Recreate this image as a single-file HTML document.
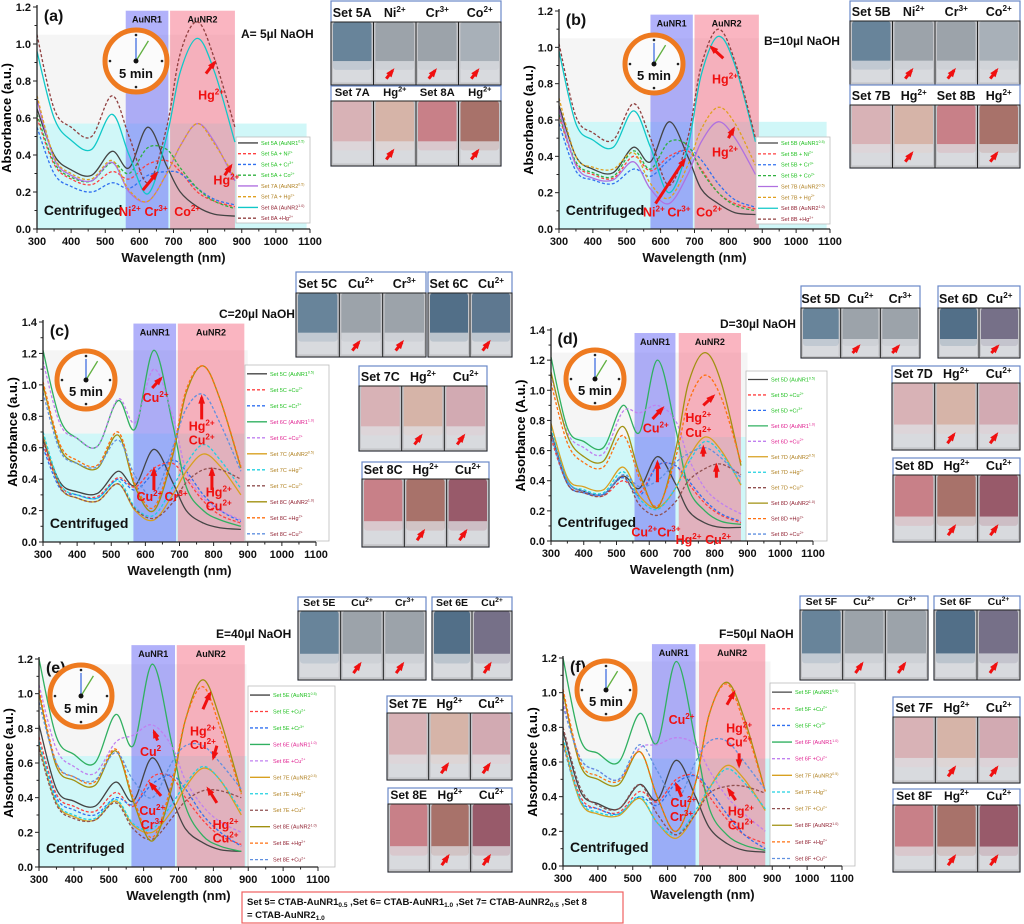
<!DOCTYPE html>
<html><head><meta charset="utf-8"><style>
body{margin:0;background:#fff;}
svg{display:block;font-family:"Liberation Sans",Arial,sans-serif;}
</style></head><body>
<svg id="fig" width="1024" height="924" viewBox="0 0 1024 924" xmlns="http://www.w3.org/2000/svg"></svg>
<script>
// ---- data ----
const wavelengths = [300,350,400,460,520,570,625,680,720,770,820,880];
const xTicks = [300,400,500,600,700,800,900,1000,1100];
const yTicks12 = [0,0.2,0.4,0.6,0.8,1.0,1.2];
const yTicks14 = [0,0.2,0.4,0.6,0.8,1.0,1.2,1.4];

const A_5A=[0.65,0.40,0.32,0.29,0.42,0.33,0.55,0.34,0.20,0.12,0.08,0.07];
const A_Ni=[0.60,0.35,0.27,0.24,0.31,0.27,0.35,0.37,0.31,0.20,0.15,0.12];
const A_Cr=[0.55,0.30,0.23,0.20,0.25,0.22,0.29,0.31,0.30,0.22,0.16,0.13];
const A_Co=[0.62,0.36,0.28,0.26,0.36,0.30,0.44,0.43,0.33,0.22,0.15,0.11];
const A_7A=[0.70,0.38,0.29,0.26,0.36,0.20,0.15,0.30,0.45,0.57,0.47,0.26];
const A_7Hg=[0.72,0.39,0.30,0.27,0.37,0.21,0.15,0.30,0.45,0.57,0.46,0.28];
const A_8A=[0.96,0.60,0.48,0.43,0.62,0.40,0.19,0.50,0.85,1.03,0.85,0.47];
const A_8Hg=[1.05,0.65,0.55,0.50,0.72,0.50,0.25,0.55,0.95,1.12,0.92,0.55];

const B_5B=[0.68,0.40,0.33,0.31,0.45,0.37,0.59,0.40,0.22,0.14,0.09,0.08];
const B_Ni=[0.62,0.36,0.30,0.28,0.40,0.32,0.40,0.43,0.33,0.20,0.14,0.11];
const B_Cr=[0.58,0.32,0.27,0.25,0.33,0.29,0.38,0.44,0.38,0.25,0.16,0.12];
const B_Co=[0.63,0.37,0.31,0.29,0.43,0.33,0.48,0.46,0.32,0.20,0.13,0.10];
const B_7B=[0.66,0.35,0.28,0.27,0.37,0.22,0.14,0.30,0.48,0.59,0.50,0.30];
const B_7Hg=[0.72,0.40,0.34,0.33,0.42,0.25,0.17,0.35,0.55,0.67,0.58,0.35];
const B_8B=[0.98,0.58,0.49,0.45,0.65,0.45,0.20,0.45,0.85,1.06,0.90,0.48];
const B_8Hg=[1.02,0.62,0.53,0.49,0.69,0.50,0.24,0.50,0.90,1.10,0.92,0.50];

const C_5=[0.65,0.38,0.32,0.31,0.45,0.36,0.59,0.38,0.20,0.12,0.09,0.08];
const C_5Cu=[0.62,0.36,0.30,0.29,0.41,0.35,0.47,0.50,0.40,0.26,0.17,0.12];
const C_5Cr=[0.60,0.34,0.30,0.28,0.40,0.33,0.44,0.52,0.45,0.30,0.20,0.13];
const C_6=[1.22,0.78,0.66,0.61,0.90,0.72,1.22,0.75,0.35,0.20,0.14,0.10];
const C_6Cu=[1.15,0.75,0.66,0.61,0.91,0.76,1.10,0.80,0.45,0.28,0.20,0.14];
const C_7=[0.68,0.35,0.28,0.26,0.37,0.20,0.14,0.30,0.45,0.56,0.48,0.30];
const C_7Hg=[0.70,0.37,0.30,0.28,0.39,0.22,0.17,0.35,0.50,0.62,0.52,0.34];
const C_7Cu=[0.66,0.35,0.28,0.26,0.37,0.21,0.15,0.25,0.38,0.46,0.46,0.40];
const C_8=[1.00,0.60,0.50,0.47,0.68,0.35,0.20,0.55,0.95,1.12,0.90,0.47];
const C_8Hg=[1.02,0.62,0.52,0.49,0.70,0.37,0.22,0.58,0.97,1.12,0.90,0.48];
const C_8Cu=[0.95,0.58,0.50,0.48,0.65,0.42,0.30,0.60,0.85,0.94,0.75,0.45];

const D_5=[0.72,0.40,0.33,0.31,0.43,0.35,0.56,0.38,0.20,0.12,0.09,0.09];
const D_5Cu=[0.68,0.38,0.32,0.30,0.40,0.32,0.50,0.50,0.38,0.25,0.17,0.12];
const D_5Cr=[0.70,0.38,0.32,0.31,0.42,0.30,0.50,0.50,0.40,0.27,0.18,0.13];
const D_6=[1.22,0.75,0.66,0.62,0.90,0.72,1.20,0.75,0.35,0.20,0.13,0.11];
const D_6Cu=[1.10,0.72,0.62,0.58,0.86,0.85,0.90,0.80,0.55,0.35,0.25,0.18];
const D_7=[0.78,0.42,0.36,0.34,0.49,0.30,0.22,0.35,0.55,0.69,0.60,0.37];
const D_7Hg=[0.75,0.40,0.34,0.32,0.46,0.28,0.21,0.35,0.52,0.66,0.58,0.38];
const D_7Cu=[0.72,0.38,0.32,0.30,0.43,0.24,0.17,0.26,0.40,0.48,0.51,0.44];
const D_8=[1.12,0.70,0.56,0.53,0.76,0.45,0.22,0.60,1.05,1.25,1.05,0.50];
const D_8Hg=[1.05,0.65,0.52,0.49,0.70,0.42,0.23,0.55,0.92,1.10,0.95,0.52];
const D_8Cu=[0.70,0.40,0.33,0.31,0.44,0.36,0.40,0.52,0.58,0.62,0.55,0.42];

const E_5=[0.82,0.45,0.38,0.35,0.49,0.38,0.63,0.40,0.22,0.14,0.10,0.09];
const E_5Cu=[0.75,0.42,0.35,0.32,0.43,0.35,0.52,0.52,0.40,0.27,0.18,0.13];
const E_5Cr=[0.72,0.40,0.33,0.30,0.40,0.36,0.48,0.53,0.45,0.30,0.20,0.12];
const E_6=[1.20,0.75,0.65,0.60,0.88,0.70,1.17,0.72,0.35,0.18,0.12,0.09];
const E_6Cu=[1.05,0.68,0.58,0.54,0.72,0.76,0.82,0.70,0.50,0.35,0.26,0.20];
const E_7=[0.70,0.37,0.29,0.27,0.38,0.24,0.20,0.32,0.46,0.57,0.50,0.30];
const E_7Hg=[0.72,0.38,0.30,0.28,0.39,0.25,0.22,0.36,0.48,0.58,0.50,0.32];
const E_7Cu=[0.68,0.36,0.28,0.27,0.37,0.22,0.16,0.28,0.38,0.44,0.44,0.40];
const E_8=[1.00,0.58,0.50,0.47,0.67,0.38,0.15,0.45,0.85,1.08,0.85,0.43];
const E_8Hg=[1.02,0.60,0.52,0.49,0.68,0.40,0.17,0.48,0.85,1.04,0.80,0.42];
const E_8Cu=[0.95,0.60,0.52,0.50,0.66,0.50,0.40,0.60,0.70,0.70,0.60,0.45];

const F_5=[0.78,0.43,0.36,0.33,0.47,0.38,0.61,0.40,0.22,0.13,0.09,0.08];
const F_5Cu=[0.72,0.40,0.33,0.31,0.43,0.37,0.50,0.52,0.40,0.27,0.18,0.13];
const F_5Cr=[0.70,0.38,0.33,0.30,0.40,0.35,0.48,0.52,0.44,0.30,0.18,0.10];
const F_6=[1.20,0.73,0.65,0.60,0.88,0.71,1.18,0.72,0.33,0.18,0.12,0.09];
const F_6Cu=[0.95,0.62,0.55,0.50,0.68,0.70,0.74,0.70,0.55,0.40,0.30,0.20];
const F_7=[0.72,0.37,0.30,0.29,0.39,0.25,0.16,0.30,0.45,0.58,0.50,0.32];
const F_7Hg=[0.74,0.38,0.31,0.30,0.40,0.25,0.18,0.32,0.45,0.56,0.48,0.33];
const F_7Cu=[0.80,0.45,0.35,0.33,0.47,0.30,0.18,0.30,0.42,0.46,0.46,0.42];
const F_8=[1.00,0.58,0.50,0.47,0.66,0.40,0.20,0.48,0.88,1.06,0.85,0.43];
const F_8Hg=[1.02,0.60,0.52,0.49,0.66,0.40,0.20,0.48,0.88,1.05,0.82,0.43];
const F_8Cu=[0.92,0.62,0.55,0.50,0.70,0.55,0.38,0.60,0.72,0.72,0.60,0.44];

// ---- helpers ----
const NS="http://www.w3.org/2000/svg";
const svg=document.getElementById('fig');
function el(tag,attrs,parent){const e=document.createElementNS(NS,tag);for(const k in attrs)e.setAttribute(k,attrs[k]);(parent||svg).appendChild(e);return e;}
function txt(x,y,s,size,fill,parent,anchor,weight){const t=el('text',{x:x,y:y,'font-size':size,fill:fill||'#000','font-weight':weight||'bold','text-anchor':anchor||'start'},parent);
  const parts=s.split('^');t.appendChild(document.createTextNode(parts[0]));
  if(parts[1]){const sp=el('tspan',{'font-size':size*0.65,dy:-size*0.4},t);sp.textContent=parts[1];}
  return t;}
function smooth(pts){let d='M'+pts[0][0].toFixed(1)+','+pts[0][1].toFixed(1);
  for(let i=0;i<pts.length-1;i++){const p0=pts[i-1]||pts[i],p1=pts[i],p2=pts[i+1],p3=pts[i+2]||p2;
    const c1=[p1[0]+(p2[0]-p0[0])/6,p1[1]+(p2[1]-p0[1])/6],c2=[p2[0]-(p3[0]-p1[0])/6,p2[1]-(p3[1]-p1[1])/6];
    d+=' C'+c1[0].toFixed(1)+','+c1[1].toFixed(1)+' '+c2[0].toFixed(1)+','+c2[1].toFixed(1)+' '+p2[0].toFixed(1)+','+p2[1].toFixed(1);}
  return d;}
function arrow(x1,y1,x2,y2,g){const l=el('line',{x1:x1,y1:y1,x2:x2,y2:y2,stroke:'#f01010','stroke-width':3},g);
  
  
  const a=Math.atan2(y2-y1,x2-x1),s=7;
  const p=el('polygon',{points:`${x2+Math.cos(a)*3},${y2+Math.sin(a)*3} ${x2-Math.cos(a-0.5)*s},${y2-Math.sin(a-0.5)*s} ${x2-Math.cos(a+0.5)*s},${y2-Math.sin(a+0.5)*s}`,fill:'#f01010'},g);
  
  }

const styleAB=[['#444',0],['#ff4040',1],['#3070f0',1],['#30b040',1],['#b070e0',0],['#e0a020',1],['#10c8c8',0],['#904040',1]];
const styleCF=[['#444',0],['#ff4040',1],['#3070f0',1],['#30b060',0],['#c080f0',1],['#d8a020',0],['#20d0e0',1],['#905050',1],['#a09010',0],['#ff7010',1],['#6090e0',1]];

function panel(cfg){
  const g=el('g',{});
  
  
  const X=w=>cfg.x0+(w-300)/800*(cfg.x1-cfg.x0);
  const Y=v=>cfg.y0-v/cfg.ymax*(cfg.y0-cfg.yt);
  const sh=[[300,cfg.cyanR,0,cfg.cyan,'rgba(150,238,240,0.45)','centrifuged-region'],
            [300,cfg.grayR,cfg.cyan,cfg.gray,'rgba(225,225,225,0.35)','upper-region'],
            [cfg.b1[0],cfg.b1[1],0,cfg.btop,'rgba(100,100,245,0.5)','aunr1-band'],
            [cfg.b2[0],cfg.b2[1],0,cfg.btop,'rgba(245,100,125,0.48)','aunr2-band']];
  sh.forEach(s=>{const r=el('rect',{x:X(s[0]),y:Y(s[3]),width:X(s[1])-X(s[0]),height:Y(s[2])-Y(s[3]),fill:s[4]},g);
    
    });
  txt((X(cfg.b1[0])+X(cfg.b1[1]))/2,Y(cfg.btop)+12,'AuNR1',9,'#111',g,'middle');
  txt((X(cfg.b2[0])+X(cfg.b2[1]))/2,Y(cfg.btop)+12,'AuNR2',9,'#111',g,'middle');
  txt(X(320),Y(0)-14,'Centrifuged',14,'#111',g);
  cfg.series.forEach((s,i)=>{const st=cfg.styles[i];
    const pts=wavelengths.map((w,j)=>[X(w),Y(s[j])]);
    const p=el('path',{d:smooth(pts),fill:'none',stroke:st[0],'stroke-width':1.3,'stroke-dasharray':st[1]?'3,2':'none'},g);
    
    });
  const L=cfg.leg;const lg=el('rect',{x:L[0],y:L[1],width:L[2],height:L[3],fill:'#fff',stroke:'#bbb','stroke-width':0.8},g);
  
  
  const n=cfg.labels.length,step=L[3]/n;
  cfg.labels.forEach((lab,i)=>{const yy=L[1]+step*(i+0.55);const st=cfg.styles[i];
    const ln=el('line',{x1:L[0]+2,y1:yy,x2:L[0]+22,y2:yy,stroke:st[0],'stroke-width':1.3,'stroke-dasharray':st[1]?'3,2':'none'},g);
    
    
    const t=txt(L[0]+25,yy+2,lab,5.5,cfg.labColors[i],g,'start','normal');
    
    });
  const ax=el('path',{d:`M${X(300)},${Y(cfg.ymax)-2} V${Y(0)} H${X(1100)}`,fill:'none',stroke:'#222','stroke-width':1.3},g);
  
  
  xTicks.forEach(w=>{el('line',{x1:X(w),y1:Y(0),x2:X(w),y2:Y(0)+4,stroke:'#222'},g);
    const t=txt(X(w),Y(0)+16,String(w),11,'#111',g,'middle');
    if(w<1100)el('line',{x1:X(w+50),y1:Y(0),x2:X(w+50),y2:Y(0)+2.5,stroke:'#222'},g);});
  cfg.yticks.forEach(v=>{el('line',{x1:X(300),y1:Y(v),x2:X(300)-4,y2:Y(v),stroke:'#222'},g);
    const t=txt(X(300)-6,Y(v)+4,v.toFixed(1),11,'#111',g,'end');
    if(v<cfg.ymax-0.01)el('line',{x1:X(300),y1:Y(v+0.1),x2:X(300)-2.5,y2:Y(v+0.1),stroke:'#222'},g);});
  const xt=txt((X(300)+X(1100))/2,Y(0)+33,'Wavelength (nm)',13,'#111',g,'middle');
  
  const yc=(Y(0)+Y(cfg.ymax))/2;
  const yt=el('text',{x:cfg.x0-26,y:yc,'font-size':13,'font-weight':'bold','text-anchor':'middle',transform:`rotate(-90 ${cfg.x0-26} ${yc})`},g);
  yt.textContent=cfg.ytitle;
  
  const pl=txt(X(320),Y(cfg.ymax)+14,'('+cfg.id+')',16,'#111',g);
  const nl=txt(cfg.naoh[0],cfg.naoh[1],cfg.naoh[2],12,'#111',g);
  const c=cfg.clock;const cg=el('g',{},g);
  el('circle',{cx:c[0],cy:c[1],r:c[2],fill:'#fbfbfb',stroke:'#ee7a20','stroke-width':5},cg);
  [[0,-1],[1,0],[0,1],[-1,0]].forEach(d=>el('circle',{cx:c[0]+d[0]*(c[2]-5),cy:c[1]+d[1]*(c[2]-5),r:1.3,fill:'#222'},cg));
  el('line',{x1:c[0],y1:c[1],x2:c[0],y2:c[1]-c[2]+8,stroke:'#4070e0','stroke-width':1.3},cg);
  el('line',{x1:c[0],y1:c[1],x2:c[0]+c[2]*0.4,y2:c[1]-c[2]*0.65,stroke:'#60b040','stroke-width':1.3},cg);
  el('circle',{cx:c[0],cy:c[1],r:2.5,fill:'#111'},cg);
  txt(c[0],c[1]+c[2]*0.55,'5 min',13,'#111',cg,'middle');
  cfg.notes.forEach(n=>{const t=txt(X(n[0]),Y(n[1]),n[2],12.5,'#f01010',g,'middle');});
  cfg.arrows.forEach(a=>arrow(X(a[0]),Y(a[1]),X(a[2]),Y(a[3]),g));
}

const labAB=s=>[`Set 5${s} (AuNR1^0.5)`,`Set 5${s} + Ni^2+`,`Set 5${s} + Cr^3+`,`Set 5${s} + Co^2+`,`Set 7${s} (AuNR2^0.5)`,`Set 7${s} + Hg^2+`,`Set 8${s} (AuNR2^1.0)`,`Set 8${s} +Hg^2+`];
const colAB=['#20c020','#20c020','#20c020','#20c020','#b08020','#b08020','#902030','#902030'];
const labCF=s=>[`Set 5${s} (AuNR1^0.5)`,`Set 5${s} +Cu^2+`,`Set 5${s} +Cr^3+`,`Set 6${s} (AuNR1^1.0)`,`Set 6${s} +Cu^2+`,`Set 7${s} (AuNR2^0.5)`,`Set 7${s} +Hg^2+`,`Set 7${s} +Cu^2+`,`Set 8${s} (AuNR2^1.0)`,`Set 8${s} +Hg^2+`,`Set 8${s} +Cu^2+`];
const colCF=['#20c020','#20c020','#20c020','#e02090','#e02090','#b08020','#b08020','#b08020','#902030','#902030','#902030'];

panel({id:'a',x0:37,x1:310,y0:229,yt:7,ymax:1.2,yticks:yTicks12,cyan:0.57,cyanR:1090,gray:1.05,grayR:880,b1:[560,685],b2:[690,880],btop:1.18,
  series:[A_5A,A_Ni,A_Cr,A_Co,A_7A,A_7Hg,A_8A,A_8Hg],styles:styleAB,labels:labAB('A'),labColors:colAB,leg:[236,137,74,86],
  ytitle:'Absorbance (a.u.)',naoh:[241,38,'A= 5µl NaOH'],clock:[136,61,31],
  notes:[[572,0.07,'Ni^2+'],[649,0.07,'Cr^3+'],[740,0.07,'Co^2+'],[810,0.7,'Hg^2+'],[855,0.24,'Hg^2+']],
  arrows:[[610,0.21,650,0.3],[795,0.84,820,0.9],[850,0.29,868,0.34]]});
panel({id:'b',x0:559,x1:830,y0:229,yt:11,ymax:1.2,yticks:yTicks12,cyan:0.59,cyanR:1090,gray:1.05,grayR:890,b1:[570,695],b2:[700,890],btop:1.18,
  series:[B_5B,B_Ni,B_Cr,B_Co,B_7B,B_7Hg,B_8B,B_8Hg],styles:styleAB,labels:labAB('B'),labColors:colAB,leg:[756,137,74,87],
  ytitle:'Absorbance (a.u.)',naoh:[764,45,'B=10µl NaOH'],clock:[654,64,29],
  notes:[[580,0.07,'Ni^2+'],[654,0.07,'Cr^3+'],[743,0.07,'Co^2+'],[790,0.8,'Hg^2+'],[790,0.4,'Hg^2+']],
  arrows:[[585,0.14,670,0.38],[785,0.94,750,1.0],[800,0.5,815,0.55]]});
panel({id:'c',x0:43,x1:316,y0:542,yt:322,ymax:1.4,yticks:yTicks14,cyan:0.69,cyanR:890,gray:1.22,grayR:900,b1:[565,690],b2:[695,890],btop:1.39,
  series:[C_5,C_5Cu,C_5Cr,C_6,C_6Cu,C_7,C_7Hg,C_7Cu,C_8,C_8Hg,C_8Cu],styles:styleCF,labels:labCF('C'),labColors:colCF,leg:[245,365,84,176],
  ytitle:'Absorbance (a.u.)',naoh:[219,318,'C=20µl NaOH'],clock:[86,380,29],
  notes:[[630,0.89,'Cu^2+'],[765,0.71,'Hg^2+'],[765,0.62,'Cu^2+'],[612,0.26,'Cu^2+'],[690,0.26,'Cr^3+'],[815,0.29,'Hg^2+'],[815,0.2,'Cu^2+']],
  arrows:[[620,0.98,645,1.04],[765,0.78,765,0.92],[625,0.33,625,0.46],[795,0.33,795,0.46]]});
panel({id:'d',x0:551,x1:813,y0:541,yt:330,ymax:1.4,yticks:yTicks14,cyan:0.69,cyanR:900,gray:1.25,grayR:900,b1:[555,680],b2:[690,880],btop:1.38,
  series:[D_5,D_5Cu,D_5Cr,D_6,D_6Cu,D_7,D_7Hg,D_7Cu,D_8,D_8Hg,D_8Cu],styles:styleCF,labels:labCF('D'),labColors:colCF,leg:[746,371,81,170],
  ytitle:'Absorbance (A.u.)',naoh:[720,328,'D=30µl NaOH'],clock:[595,379,29],
  notes:[[620,0.72,'Cu^2+'],[750,0.79,'Hg^2+'],[750,0.69,'Cu^2+'],[585,0.03,'Cu^2+'],[660,0.03,'Cr^3+'],[720,-0.02,'Hg^2+'],[810,-0.02,'Cu^2+']],
  arrows:[[610,0.81,640,0.88],[765,0.9,795,0.96],[625,0.39,625,0.52],[765,0.56,765,0.62],[805,0.42,805,0.5]]});
panel({id:'e',x0:39,x1:318,y0:867,yt:659,ymax:1.2,yticks:yTicks12,cyan:0.64,cyanR:895,gray:1.17,grayR:895,b1:[565,690],b2:[695,890],btop:1.28,
  series:[E_5,E_5Cu,E_5Cr,E_6,E_6Cu,E_7,E_7Hg,E_7Cu,E_8,E_8Hg,E_8Cu],styles:styleCF,labels:labCF('E'),labColors:colCF,leg:[248,686,87,181],
  ytitle:'Absorbance (a.u.)',naoh:[216,638,'E=40µl NaOH'],clock:[81,696,31],
  notes:[[620,0.64,'Cu^2'],[770,0.76,'Hg^2+'],[770,0.68,'Cu^2+'],[625,0.3,'Cu^2+'],[625,0.22,'Cr^3+'],[835,0.22,'Hg^2+'],[835,0.14,'Cu^2+']],
  arrows:[[640,0.73,630,0.78],[770,0.91,790,1.0],[810,0.7,800,0.63],[650,0.41,620,0.48],[810,0.37,785,0.45]]});
panel({id:'f',x0:563,x1:842,y0:866,yt:658,ymax:1.2,yticks:yTicks12,cyan:0.62,cyanR:895,gray:1.18,grayR:895,b1:[555,680],b2:[690,880],btop:1.28,
  series:[F_5,F_5Cu,F_5Cr,F_6,F_6Cu,F_7,F_7Hg,F_7Cu,F_8,F_8Hg,F_8Cu],styles:styleCF,labels:labCF('F'),labColors:colCF,leg:[770,683,85,183],
  ytitle:'Absorbance (a.u.)',naoh:[719,638,'F=50µl NaOH'],clock:[606,690,29],
  notes:[[640,0.82,'Cu^2+'],[805,0.77,'Hg^2+'],[805,0.69,'Cu^2+'],[645,0.34,'Cu^2+'],[640,0.26,'Cr^3+'],[810,0.29,'Hg^2+'],[810,0.21,'Cu^2+']],
  arrows:[[770,0.93,790,1.0],[805,0.65,805,0.58],[640,0.4,625,0.47],[795,0.38,775,0.44]]});

// ---- photo insets ----
const VC={s5:'#68849a',ion:'#9ca3aa',s6:'#526f88',cu6:'#767088',s7:'#d8b2b6',hg7:'#d6b4a8',cu7:'#d2aab2',s8:'#c88088',hg8:'#a8726a',cu8:'#985a6a'};
function photo(name,x,y,w,h,hh,labels,cells,arrows){
  const g=el('g',{});
  el('rect',{x:x,y:y,width:w,height:h,fill:'#fff',stroke:'#6a88c8','stroke-width':1.2},g);
  const n=cells.length,cw=w/n;
  cells.forEach((c,i)=>{const cx=x+i*cw,cy=y+hh,ch=h-hh;
    el('rect',{x:cx,y:cy,width:cw,height:ch,fill:'#c4c5c9'},g);
    el('rect',{x:cx+2,y:cy,width:cw-4,height:ch*0.76,fill:c,rx:3},g);
    el('rect',{x:cx+2,y:cy+ch*0.62,width:cw-4,height:ch*0.34,fill:'#dfe0e4',opacity:0.75},g);
    el('line',{x1:cx,y1:cy,x2:cx,y2:y+h,stroke:'#222','stroke-width':1},g);
    if(arrows[i])arrow(cx+cw*0.3,cy+ch*0.9,cx+cw*0.45,cy+ch*0.77,g);
    const t=txt(cx+cw/2,y+hh-5,labels[i],Math.min(12.5,hh*0.75),'#111',g,'middle');
    });
  el('rect',{x:x,y:y+hh,width:w,height:h-hh,fill:'none',stroke:'#222','stroke-width':1},g);
}
photo('photo-set5A',331,1,170,84,21,['Set 5A','Ni^2+','Cr^3+','Co^2+'],[VC.s5,VC.ion,VC.ion,'#a8b0b8'],[0,1,1,1]);
photo('photo-set7A-8A',331,86,170,80,15,['Set 7A','Hg^2+','Set 8A','Hg^2+'],[VC.s7,VC.hg7,VC.s8,VC.hg8],[0,1,0,1]);
photo('photo-set5B',850,1,170,84,20,['Set 5B','Ni^2+','Cr^3+','Co^2+'],[VC.s5,VC.ion,VC.ion,'#a8b0b8'],[0,1,1,1]);
photo('photo-set7B-8B',850,85,170,83,20,['Set 7B','Hg^2+','Set 8B','Hg^2+'],[VC.s7,VC.hg7,VC.s8,VC.hg8],[0,1,0,1]);
photo('photo-set5C',296,272,130,85,21,['Set 5C','Cu^2+','Cr^3+'],[VC.s5,VC.ion,VC.ion],[0,1,1]);
photo('photo-set6C',428,272,84,85,21,['Set 6C','Cu^2+'],[VC.s6,'#5e7890'],[0,1]);
photo('photo-set7C',359,366,128,85,20,['Set 7C','Hg^2+','Cu^2+'],[VC.s7,VC.hg7,VC.cu7],[0,1,1]);
photo('photo-set8C',362,462,127,85,17,['Set 8C','Hg^2+','Cu^2+'],[VC.s8,VC.hg8,VC.cu8],[0,1,1]);
photo('photo-set5D',801,286,119,72,22,['Set 5D','Cu^2+','Cr^3+'],[VC.s5,VC.ion,VC.ion],[0,1,1]);
photo('photo-set6D',938,286,82,72,22,['Set 6D','Cu^2+'],[VC.s6,VC.cu6],[0,1]);
photo('photo-set7D',892,366,128,84,17,['Set 7D','Hg^2+','Cu^2+'],[VC.s7,VC.hg7,VC.cu7],[0,1,1]);
photo('photo-set8D',893,458,127,84,17,['Set 8D','Hg^2+','Cu^2+'],[VC.s8,VC.hg8,VC.cu8],[0,1,1]);
photo('photo-set5E',298,597,128,83,14,['Set 5E','Cu^2+','Cr^3+'],[VC.s5,VC.ion,VC.ion],[0,1,1]);
photo('photo-set6E',432,597,80,83,14,['Set 6E','Cu^2+'],[VC.s6,VC.cu6],[0,1]);
photo('photo-set7E',387,696,125,84,17,['Set 7E','Hg^2+','Cu^2+'],[VC.s7,VC.hg7,VC.cu7],[0,1,1]);
photo('photo-set8E',388,788,124,84,16,['Set 8E','Hg^2+','Cu^2+'],[VC.s8,VC.hg8,VC.cu8],[0,1,1]);
photo('photo-set5F',800,596,128,84,14,['Set 5F','Cu^2+','Cr^3+'],[VC.s5,VC.ion,VC.ion],[0,1,1]);
photo('photo-set6F',934,596,86,84,14,['Set 6F','Cu^2+'],[VC.s6,VC.cu6],[0,1]);
photo('photo-set7F',893,697,127,86,20,['Set 7F','Hg^2+','Cu^2+'],[VC.s7,VC.hg7,VC.cu7],[0,1,1]);
photo('photo-set8F',893,789,127,83,16,['Set 8F','Hg^2+','Cu^2+'],[VC.s8,VC.hg8,VC.cu8],[0,1,1]);

// footnote
const fg=el('g',{});
el('rect',{x:242,y:892,width:381,height:31,fill:'#fff',stroke:'#f06060','stroke-width':1.2},fg);
const f1=el('text',{x:247,y:905,'font-size':9.5,'font-weight':'bold',fill:'#111'},fg);
f1.innerHTML='Set 5= CTAB-AuNR1<tspan font-size="6.5" dy="2">0.5</tspan><tspan dy="-2"> ,Set 6= CTAB-AuNR1</tspan><tspan font-size="6.5" dy="2">1.0</tspan><tspan dy="-2"> ,Set 7= CTAB-AuNR2</tspan><tspan font-size="6.5" dy="2">0.5</tspan><tspan dy="-2"> ,Set 8</tspan>';
const f2=el('text',{x:247,y:918,'font-size':9.5,'font-weight':'bold',fill:'#111'},fg);
f2.innerHTML='= CTAB-AuNR2<tspan font-size="6.5" dy="2">1.0</tspan>';
</script>
</body></html>
